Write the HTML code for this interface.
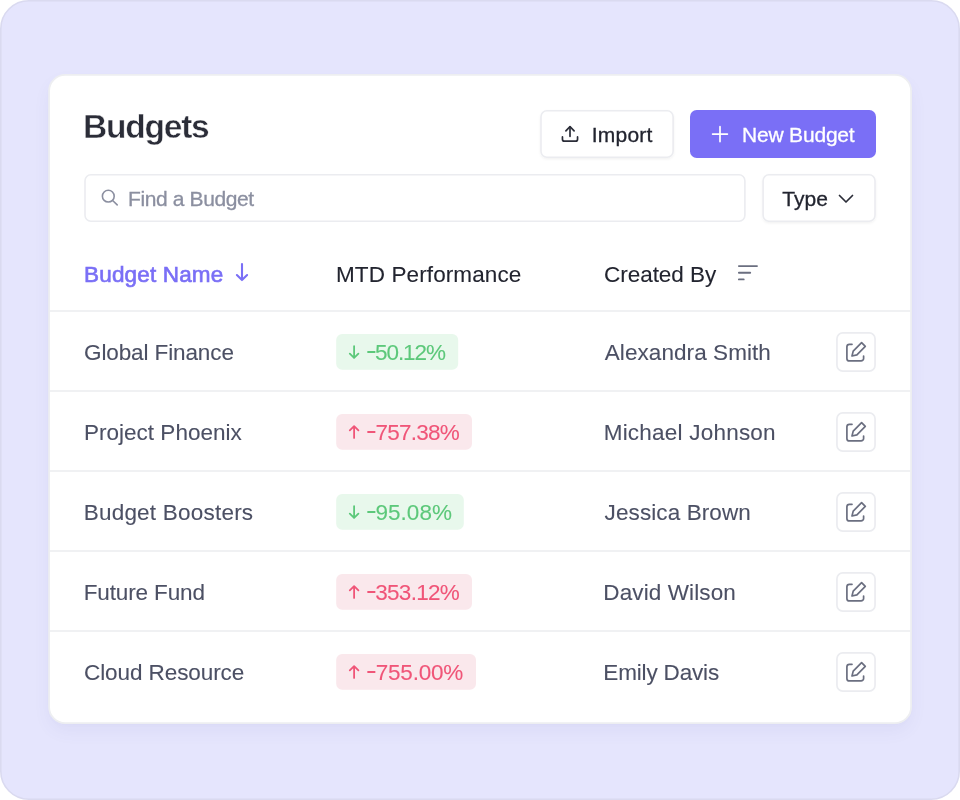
<!DOCTYPE html>
<html lang="en">
<head>
<meta charset="utf-8">
<title>Budgets</title>
<style>
*{box-sizing:border-box;margin:0;padding:0}
html,body{width:960px;height:800px;background:#fff;overflow:hidden}
body{font-family:"Liberation Sans",sans-serif;position:relative;color:#2b2d38}
.cardsh{position:absolute;left:50px;top:76px;width:860px;height:646px;border-radius:16px;background:#fff;box-shadow:0 8px 18px rgba(80,80,160,0.07),0 2px 6px rgba(80,80,160,0.025)}
.abs{position:absolute;white-space:nowrap}
.t{position:absolute;white-space:nowrap;font-size:22.5px;line-height:24px;height:24px;-webkit-text-stroke:0.1px}
.hy{display:inline-block;transform:translateY(-1.6px) scale(1.42,1.15);transform-origin:0 60%;margin-right:2.6px}
.b{font-size:21px;-webkit-text-stroke:0.3px}
h1{position:absolute;left:83.0px;top:108px;font-size:33.5px;line-height:38px;font-weight:700;color:#2b2d38;white-space:nowrap;letter-spacing:-1.21px;-webkit-text-stroke:0.45px #fff}
.dark{color:#22242f}
.gray{color:#4c5064}
.ph{color:#8b8fa0}
.pur{color:#7a6ff6}
svg{position:absolute;overflow:visible}
</style>
</head>
<body>
<svg id="shapes" style="left:0;top:0" width="960" height="800" viewBox="0 0 960 800">
<rect x="0.8" y="0.8" width="958.4" height="798.4" rx="28" fill="#e5e5fd" stroke="#dadaf0" stroke-width="1.6"/>
</svg>
<div class="cardsh"></div>
<svg id="shapes2" style="left:0;top:0" width="960" height="800" viewBox="0 0 960 800">
<rect x="49.10" y="74.90" width="862.00" height="648.20" rx="16.2" fill="#fff" stroke="#edeef1" stroke-width="1.8"/>
<rect x="50" y="310.25" width="860.2" height="1.5" fill="#ecedf0"/>
<rect x="50" y="390.25" width="860.2" height="1.5" fill="#ecedf0"/>
<rect x="50" y="470.25" width="860.2" height="1.5" fill="#ecedf0"/>
<rect x="50" y="550.25" width="860.2" height="1.5" fill="#ecedf0"/>
<rect x="50" y="630.25" width="860.2" height="1.5" fill="#ecedf0"/>
<rect x="541.00" y="110.80" width="132.10" height="46.40" rx="5.90" fill="#fff" stroke="#ebecf0" stroke-width="1.6" filter="url(#bs)"/>
<rect x="690" y="110" width="186" height="47.9" rx="6.7" fill="#7a6ff6"/>
<rect x="85.00" y="174.80" width="659.90" height="46.40" rx="5.90" fill="#fff" stroke="#ebecf0" stroke-width="1.6"/>
<rect x="763.10" y="174.80" width="111.90" height="46.40" rx="5.90" fill="#fff" stroke="#ebecf0" stroke-width="1.6" filter="url(#bs)"/>
<rect x="336.2" y="334.1" width="122.0" height="35.7" rx="6" fill="#e8f8ec"/>
<rect x="336.2" y="414.1" width="135.8" height="35.7" rx="6" fill="#fae8ec"/>
<rect x="336.2" y="494.1" width="127.6" height="35.7" rx="6" fill="#e8f8ec"/>
<rect x="336.2" y="574.1" width="135.8" height="35.7" rx="6" fill="#fae8ec"/>
<rect x="336.2" y="654.1" width="139.8" height="35.7" rx="6" fill="#fae8ec"/>
<rect x="836.95" y="332.85" width="38.10" height="38.30" rx="5.85" fill="#fff" stroke="#ebecf0" stroke-width="1.7"/>
<rect x="836.95" y="412.85" width="38.10" height="38.30" rx="5.85" fill="#fff" stroke="#ebecf0" stroke-width="1.7"/>
<rect x="836.95" y="492.85" width="38.10" height="38.30" rx="5.85" fill="#fff" stroke="#ebecf0" stroke-width="1.7"/>
<rect x="836.95" y="572.85" width="38.10" height="38.30" rx="5.85" fill="#fff" stroke="#ebecf0" stroke-width="1.7"/>
<rect x="836.95" y="652.85" width="38.10" height="38.30" rx="5.85" fill="#fff" stroke="#ebecf0" stroke-width="1.7"/>
<defs><filter id="bs" x="-10%" y="-20%" width="120%" height="150%"><feDropShadow dx="0" dy="1.3" stdDeviation="1.2" flood-color="#101828" flood-opacity="0.05"/></filter></defs>
</svg>

<h1 id="title">Budgets</h1>

<div class="t b dark" id="import" style="left:591.8px;top:123px;letter-spacing:0.22px">Import</div>

<div class="t b" id="newb" style="left:742.0px;top:123px;color:#fff;letter-spacing:-0.19px">New Budget</div>

<div class="t b ph" id="find" style="left:128.0px;top:187px;letter-spacing:-0.38px">Find a Budget</div>

<div class="t b dark" id="type" style="left:782.2px;top:187px;letter-spacing:0.07px">Type</div>

<div class="t pur" id="hname" style="left:84.1px;top:262.5px;-webkit-text-stroke:0.65px #7a6ff6;letter-spacing:0.16px">Budget Name</div>
<div class="t dark" id="hmtd" style="left:336.0px;top:262.5px;letter-spacing:0.11px">MTD Performance</div>
<div class="t dark" id="hcb" style="left:604.0px;top:262.5px;letter-spacing:-0.03px">Created By</div>


<div class="t gray n" style="left:84.0px;top:341px;letter-spacing:-0.11px">Global Finance</div>
<div class="t gray n" style="left:84.0px;top:421px;letter-spacing:0.01px">Project Phoenix</div>
<div class="t gray n" style="left:83.7px;top:501px;letter-spacing:0.22px">Budget Boosters</div>
<div class="t gray n" style="left:83.7px;top:581px;letter-spacing:-0.13px">Future Fund</div>
<div class="t gray n" style="left:84.0px;top:661px;letter-spacing:-0.08px">Cloud Resource</div>


<div class="t p" style="left:366.0px;top:341px;color:#5cc87a;letter-spacing:-1.07px"><span class="hy">-</span>50.12%</div>
<div class="t p" style="left:366.0px;top:421px;color:#f05578;letter-spacing:-0.72px"><span class="hy">-</span>757.38%</div>
<div class="t p" style="left:365.5px;top:501px;color:#5cc87a;letter-spacing:-0.00px"><span class="hy">-</span>95.08%</div>
<div class="t p" style="left:366.0px;top:581px;color:#f05578;letter-spacing:-0.75px"><span class="hy">-</span>353.12%</div>
<div class="t p" style="left:366.0px;top:661px;color:#f05578;letter-spacing:-0.25px"><span class="hy">-</span>755.00%</div>

<div class="t gray c" style="left:604.8px;top:341px;letter-spacing:0.07px">Alexandra Smith</div>
<div class="t gray c" style="left:603.7px;top:421px;letter-spacing:0.22px">Michael Johnson</div>
<div class="t gray c" style="left:604.6px;top:501px;letter-spacing:0.10px">Jessica Brown</div>
<div class="t gray c" style="left:603.3px;top:581px;letter-spacing:0.11px">David Wilson</div>
<div class="t gray c" style="left:603.3px;top:661px;letter-spacing:-0.16px">Emily Davis</div>

<svg id="icons" style="left:0;top:0" width="960" height="800" viewBox="0 0 960 800" fill="none" stroke-linecap="round" stroke-linejoin="round">
<g stroke="#2b2d38" stroke-width="1.7"><path d="M562.45 136.9v2.25a2 2 0 0 0 2 2h11.1a2 2 0 0 0 2-2v-2.25"/><path d="M570 136.3V126.9"/><path d="M565.9 130.8l4.1-4.1 4.1 4.1"/></g>
<path stroke="#fff" stroke-width="1.7" d="M720 126.7v14.9M712.6 134.1h14.8"/>
<g stroke="#8b8fa0" stroke-width="1.6"><circle cx="108.3" cy="196.15" r="5.9"/><path d="M112.6 200.5l4.6 4.4"/></g>
<path stroke="#2b2d38" stroke-width="1.7" d="M839.5 195.5l6.5 6.5 6.5-6.5"/>
<path stroke="#7a6ff6" stroke-width="2.1" d="M242 264v16M236.9 275l5.1 5.1 5.1-5.1"/>
<path stroke="#6b6f80" stroke-width="1.9" d="M738.9 266.1h18.1M738.9 272.7h11.3M738.9 279.4h4.8"/>
<path stroke="#5cc87a" stroke-width="1.8" d="M354.1 346.1V357.9M349.8 353.6l4.3 4.3 4.3-4.3"/>
<path stroke="#f05578" stroke-width="1.8" d="M354.1 437.9V426.1M349.8 430.4l4.3-4.3 4.3 4.3"/>
<path stroke="#5cc87a" stroke-width="1.8" d="M354.1 506.1V517.9M349.8 513.6l4.3 4.3 4.3-4.3"/>
<path stroke="#f05578" stroke-width="1.8" d="M354.1 597.9V586.1M349.8 590.4l4.3-4.3 4.3 4.3"/>
<path stroke="#f05578" stroke-width="1.8" d="M354.1 677.9V666.1M349.8 670.4l4.3-4.3 4.3 4.3"/>
<g stroke="#6b6f80" stroke-width="1.7" transform="translate(0 0)"><path d="M852 344.3h-2.6a2.5 2.5 0 0 0-2.5 2.5v11.6a2.5 2.5 0 0 0 2.5 2.5h11.7a2.5 2.5 0 0 0 2.5-2.5v-2.4"/><path fill="#fff" d="M852 356l1.2-4.9 8.4-8.4 3.7 3.7-8.4 8.4z"/></g>
<g stroke="#6b6f80" stroke-width="1.7" transform="translate(0 80)"><path d="M852 344.3h-2.6a2.5 2.5 0 0 0-2.5 2.5v11.6a2.5 2.5 0 0 0 2.5 2.5h11.7a2.5 2.5 0 0 0 2.5-2.5v-2.4"/><path fill="#fff" d="M852 356l1.2-4.9 8.4-8.4 3.7 3.7-8.4 8.4z"/></g>
<g stroke="#6b6f80" stroke-width="1.7" transform="translate(0 160)"><path d="M852 344.3h-2.6a2.5 2.5 0 0 0-2.5 2.5v11.6a2.5 2.5 0 0 0 2.5 2.5h11.7a2.5 2.5 0 0 0 2.5-2.5v-2.4"/><path fill="#fff" d="M852 356l1.2-4.9 8.4-8.4 3.7 3.7-8.4 8.4z"/></g>
<g stroke="#6b6f80" stroke-width="1.7" transform="translate(0 240)"><path d="M852 344.3h-2.6a2.5 2.5 0 0 0-2.5 2.5v11.6a2.5 2.5 0 0 0 2.5 2.5h11.7a2.5 2.5 0 0 0 2.5-2.5v-2.4"/><path fill="#fff" d="M852 356l1.2-4.9 8.4-8.4 3.7 3.7-8.4 8.4z"/></g>
<g stroke="#6b6f80" stroke-width="1.7" transform="translate(0 320)"><path d="M852 344.3h-2.6a2.5 2.5 0 0 0-2.5 2.5v11.6a2.5 2.5 0 0 0 2.5 2.5h11.7a2.5 2.5 0 0 0 2.5-2.5v-2.4"/><path fill="#fff" d="M852 356l1.2-4.9 8.4-8.4 3.7 3.7-8.4 8.4z"/></g>
</svg>
</body>
</html>
